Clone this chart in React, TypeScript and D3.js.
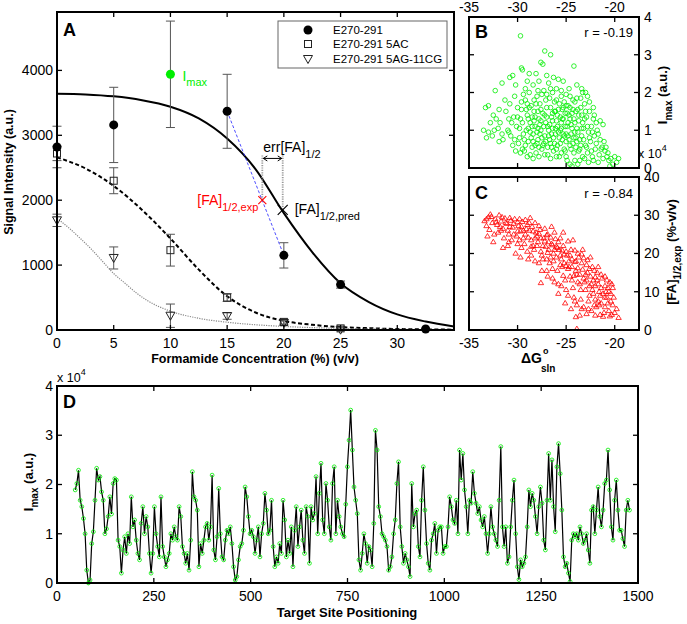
import * as d3 from "d3";

const FONT = "Arial, 'Liberation Sans', Helvetica, sans-serif";
const LIME = "#00ee00";
const RED = "#ff0000";

// ---------- panel A : signal vs formamide ----------
const concWt = [0, 5, 10, 15, 20, 25, 32.5];
const sigWt = [2820, 3160, 3940, 3370, 1150, 700, 15];
const errWt = [320, 580, 820, 570, 195, 55, 0];
const concMut = [0, 5, 10, 15, 20, 25];
const sig5AC = [2720, 2300, 1230, 500, 125, 25];
const err5AC = [110, 200, 245, 60, 35, 15];
const sig5AG = [1690, 1110, 220, 215, 110, 5];
const err5AG = [95, 170, 180, 50, 40, 10];
const imaxIndex = 2;

const fitConc = [0, 2.5, 5, 7.5, 10, 12.5, 15, 17.5, 20, 22.5, 25, 27.5, 30, 32.5, 35];
const fitWt = [3640, 3630, 3600, 3540, 3440, 3260, 2950, 2480, 1800, 1200, 720, 430, 240, 130, 55];
const fit5AC = [2660, 2490, 2220, 1850, 1410, 930, 520, 270, 140, 80, 45, 28, 15, 9, 5];
const fit5AGConc = [0, 1, 2, 3, 4, 5, 6, 7, 8, 10, 12.5, 15, 20, 25, 30, 35];
const fit5AG = [1720, 1580, 1420, 1250, 1060, 870, 720, 570, 450, 290, 180, 120, 55, 25, 10, 5];

const faExp = { conc: 18.1, sig: 2000 };
const faPred = { conc: 19.9, sig: 1850 };
const errLevel = 2690;

// ---------- panel B : Imax (x10^4) vs dG ----------
const bPoints: [number, number][] = [
  [-29.7,3.5],[-27.2,3.1],[-26.6,3.0],[-27.6,2.8],[-27.4,2.75],[-24.2,2.7],[-29.6,2.65],[-29.5,2.6],
  [-30.8,2.4],[-30.5,2.45],[-28.8,2.5],[-28.1,2.5],[-27.0,2.45],[-26.3,2.4],[-25.8,2.35],[-25.3,2.3],
  [-24.7,2.1],[-23.9,2.2],[-23.4,2.1],[-23.0,2.0],[-32.3,2.05],[-31.6,2.25],[-30.2,2.2],[-29.0,2.3],
  [-28.4,2.2],[-27.8,2.3],[-26.8,2.25],[-26.0,2.1],[-25.5,2.05],
  [-33.3,1.6],[-33.0,1.65],[-32.5,1.4],[-32.2,1.3],[-31.8,1.2],[-33.5,1.0],[-33.0,0.95],[-32.6,0.85],
  [-32.0,1.05],[-31.6,0.9],[-31.2,1.5],[-30.8,1.7],[-31.0,1.0],[-31.5,0.75],[-30.5,0.6],[-30.9,1.3],
  [-30.3,1.9],[-30.0,1.6],[-29.8,0.8],[-29.5,0.5],
  [-29.2,1.8],[-29.0,1.4],[-29.1,1.0],[-28.9,0.7],[-29.3,0.45],[-28.7,1.2],[-28.6,1.65],[-28.8,2.0],
  [-28.5,0.55],[-28.4,0.9],[-28.3,1.5],[-28.2,1.1],[-28.1,0.4],[-28.0,1.9],[-27.9,0.75],[-27.8,1.3],
  [-27.7,1.7],[-27.6,1.0],[-27.5,0.5],[-27.4,1.45],[-27.3,2.05],[-27.2,0.85],[-27.1,1.2],[-27.0,1.6],
  [-26.9,0.35],[-26.8,1.0],[-26.7,1.85],[-26.6,0.65],[-26.5,1.35],[-26.4,1.05],[-26.3,0.45],[-26.2,1.75],
  [-26.1,0.9],[-26.0,1.25],[-25.9,0.6],[-25.8,1.55],[-25.7,0.3],[-25.6,1.0],[-25.5,1.9],[-25.4,0.75],
  [-25.3,1.3],[-25.2,0.5],[-25.1,1.1],[-25.0,1.65],[-24.9,0.2],[-24.8,0.85],[-24.7,1.4],[-24.6,0.6],
  [-24.5,1.15],[-24.4,0.05],[-24.3,1.8],[-24.2,0.4],[-24.1,0.95],[-24.0,1.5],[-23.9,0.7],[-23.8,0.1],
  [-23.7,1.25],[-23.6,0.5],[-23.5,1.6],[-23.4,0.85],[-23.3,0.3],[-23.2,1.05],[-23.1,1.7],[-23.0,0.6],
  [-22.9,1.35],[-22.8,0.4],[-22.7,0.95],[-22.6,1.5],[-22.5,0.7],[-22.4,1.1],[-22.3,0.3],[-22.2,1.3],
  [-22.1,0.85],[-22.0,0.5],[-21.8,1.0],[-21.6,0.35],[-21.5,0.75],[-21.3,0.55],[-21.0,0.45],[-20.8,0.3],
  [-20.6,0.2],[-20.4,0.25],[-20.2,0.1],[-19.8,0.15],[-19.6,0.25],[-21.9,1.2],[-22.8,1.9],[-23.3,2.0],
  [-21.2,1.15],[-21.5,1.25],
  [-30.1,1.1],[-29.7,1.3],[-29.4,0.9],[-29.6,1.55],[-28.9,1.05],[-28.6,0.8],[-28.3,1.25],[-28.0,0.95],
  [-27.7,1.15],[-27.5,0.8],[-27.2,1.4],[-26.9,1.1],[-26.7,0.75],[-26.4,1.45],[-26.2,0.65],[-25.9,1.1],
  [-25.6,1.35],[-25.3,0.9],[-25.0,0.7],[-24.8,1.2],[-24.5,0.9],[-24.2,1.3],[-23.9,1.05],[-23.6,0.75],
  [-23.3,1.2],[-29.9,0.65],[-29.2,0.6],[-28.7,0.35],[-28.2,0.6],[-27.8,0.55],[-27.3,0.65],[-26.9,0.55],
  [-26.5,0.9],[-26.1,1.5],[-25.7,0.8],[-25.4,1.55],[-25.1,0.45],[-24.6,1.6],[-24.3,0.65],[-24.0,0.8],
  [-23.7,0.45],[-23.4,1.4],[-29.0,1.7],[-28.5,1.35],[-28.1,1.7],[-27.6,1.55],[-27.1,1.8],[-26.6,1.6],
  [-26.0,1.8],[-25.5,1.2],[-25.2,1.75],[-24.9,1.45],[-24.4,1.05],[-24.1,1.75],[-23.8,1.55],[-30.4,1.35],
  [-30.7,0.85],[-29.4,1.95],[-27.9,2.05],[-26.4,2.0],[-25.0,1.95],[-24.6,1.9],
  [-30.9,0.95],[-30.6,1.2],[-30.3,0.75],[-30.0,1.35],[-29.8,1.05],[-29.5,1.2],[-29.3,0.75],[-29.1,1.55],
  [-28.9,1.3],[-28.7,0.95],[-28.5,1.1],[-28.4,0.7],[-28.2,1.35],[-28.0,0.65],[-27.9,1.05],[-27.7,0.9],
  [-27.6,1.25],[-27.4,0.6],[-27.3,1.1],[-27.1,0.7],[-27.0,1.35],[-26.8,0.85],[-26.7,1.15],[-26.5,0.55],
  [-26.4,1.25],[-26.3,0.8],[-26.1,1.05],[-26.0,0.5],[-25.9,1.4],[-25.8,0.95],[-25.6,0.65],[-25.5,1.05],
  [-25.4,1.3],[-25.2,0.85],[-25.1,1.45],[-25.0,0.9],[-24.9,1.1],[-24.7,0.75],[-24.6,1.3],[-24.5,0.5],
  [-24.4,1.45],[-24.2,0.8],[-24.1,1.2],[-24.0,0.55],[-23.8,0.95],[-23.7,1.4],[-23.5,0.6],[-23.4,1.05],
  [-23.2,0.75],[-23.1,1.3],[-22.9,0.55],[-22.8,1.1],[-22.6,0.8],[-22.4,0.45],[-22.3,0.95],[-22.1,1.4],
  [-21.9,0.65],[-21.7,0.9],[-21.4,0.5],[-21.1,0.7],[-20.9,0.55],[-20.7,0.4],
  [-29.6,1.75],[-29.2,2.1],[-28.8,1.6],[-28.3,1.8],[-27.9,1.5],[-27.5,1.95],[-27.0,1.95],[-26.6,2.1],
  [-26.2,1.5],[-25.7,1.7],[-25.3,1.6],[-24.8,1.65],[-24.3,1.55],[-23.9,1.85],[-23.5,1.85],[-23.0,1.5],
  [-22.6,1.75],[-22.2,1.6],
  [-30.2,0.45],[-29.7,0.4],[-29.0,0.3],[-28.4,0.25],[-27.8,0.3],[-27.2,0.35],[-26.6,0.25],[-26.0,0.3],
  [-25.5,0.4],[-25.0,0.3],[-24.6,0.1],[-24.1,0.2],[-23.6,0.2],[-23.1,0.25],[-22.7,0.15],[-22.2,0.2],
  [-21.7,0.15],[-21.2,0.25],[-20.5,0.05],[-20.0,0.3],[-31.3,1.8],[-31.9,1.55],[-32.8,1.2],[-32.4,1.0],
  [-31.9,0.7],[-33.2,0.8],
];

// ---------- panel C : [FA]1/2,exp vs dG ----------
const cPoints: [number, number][] = [
  [-33.4,28.5],[-33.2,27.2],[-33.0,29.5],[-32.8,30.2],[-32.6,28.0],[-32.5,23.0],[-32.3,29.0],[-32.1,27.5],
  [-31.9,30.0],[-31.7,28.4],[-31.5,26.5],[-31.3,29.2],[-31.1,27.8],[-30.9,25.0],[-30.7,28.6],[-30.5,26.8],
  [-30.3,29.0],[-30.1,24.5],[-29.9,27.2],[-29.7,25.8],[-29.5,28.3],[-29.3,22.5],[-29.1,26.4],[-28.9,24.2],
  [-28.7,29.3],[-28.5,27.0],[-28.3,21.0],[-28.1,25.5],[-27.9,23.0],[-27.7,26.2],[-27.5,19.5],[-27.3,24.0],
  [-27.1,21.8],[-26.9,25.0],[-26.7,17.5],[-26.5,22.5],[-26.3,20.0],[-26.1,23.8],[-25.9,15.5],[-25.7,21.0],
  [-25.5,18.5],[-25.3,22.0],[-25.1,13.0],[-24.9,19.5],[-24.7,16.5],[-24.5,21.0],[-24.3,11.0],[-24.1,17.8],
  [-23.9,14.5],[-23.7,19.0],[-23.5,8.0],[-23.3,15.8],[-23.1,12.5],[-22.9,17.0],[-22.7,7.5],[-22.5,14.0],
  [-22.3,10.5],[-22.1,15.5],[-21.9,6.0],[-21.7,12.0],[-21.5,9.0],[-21.3,13.5],[-21.1,4.5],[-20.9,10.0],
  [-20.7,7.0],[-20.5,12.5],[-20.3,4.0],[-20.1,8.5],[-19.8,5.5],[-19.6,3.2],
  [-32.9,26.2],[-32.0,25.5],[-31.4,24.0],[-30.8,27.0],[-30.2,20.0],[-29.8,23.5],[-29.4,26.0],[-29.0,20.5],
  [-28.6,23.5],[-28.2,28.0],[-27.8,17.5],[-27.6,12.3],[-27.4,22.0],[-27.0,18.5],[-26.8,23.0],[-26.4,16.0],
  [-26.2,25.5],[-26.0,19.0],[-25.8,12.0],[-25.6,24.0],[-25.4,16.5],[-25.2,19.8],[-25.0,10.5],[-24.8,23.2],
  [-24.6,14.0],[-24.4,18.5],[-24.2,8.5],[-24.0,15.5],[-23.8,20.0],[-23.6,12.0],[-23.4,17.5],[-23.2,6.0],
  [-23.0,14.5],[-22.8,18.3],[-22.6,11.5],[-22.4,5.0],[-22.2,13.0],[-22.0,8.0],[-21.8,15.0],[-21.6,6.5],
  [-21.4,11.0],[-21.2,3.5],[-21.0,8.5],[-20.8,13.0],[-20.6,5.0],[-20.4,9.5],[-20.2,6.5],[-24.0,3.4],
  [-23.6,3.8],[-22.9,4.2],[-23.9,0.3],[-22.0,3.8],[-21.5,4.0],[-20.5,3.6],
  [-30.6,23.5],[-30.0,25.8],[-29.6,21.5],[-29.2,28.8],[-28.8,26.0],[-28.4,22.0],[-28.0,24.5],[-27.6,20.5],
  [-27.2,26.5],[-26.9,20.2],[-26.6,24.2],[-26.3,18.0],[-25.9,21.5],[-25.6,17.0],[-25.3,14.2],[-25.0,20.5],
  [-24.7,18.0],[-24.4,13.0],[-24.1,20.8],[-23.8,16.2],[-23.5,10.5],[-23.2,18.8],[-22.9,13.0],[-22.6,9.0],
  [-22.3,16.5],[-22.0,11.5],[-21.7,7.5],[-21.4,14.5],[-21.0,6.0],[-20.7,11.0],[-27.8,27.2],[-27.0,15.5],
  [-26.4,13.5],[-25.8,9.5],[-25.1,7.0],[-24.5,5.5],[-23.9,6.5],[-28.9,18.5],[-29.7,19.0],[-31.0,22.0],
  [-31.7,26.0],[-32.4,25.0],[-33.1,24.5],
  [-33.2,29.0],[-32.7,29.6],[-32.2,28.2],[-31.8,27.0],[-31.2,28.0],[-30.8,29.3],[-30.4,27.8],[-30.0,28.2],
  [-29.6,27.0],[-29.2,25.0],[-28.8,28.0],[-28.4,25.8],[-28.0,22.0],[-27.6,24.0],[-27.2,23.2],[-26.8,21.0],
  [-26.4,22.2],[-26.0,21.8],[-25.6,19.5],[-25.2,17.5],[-24.8,16.0],[-24.4,16.5],[-24.0,18.0],[-23.6,14.5],
  [-23.2,13.5],[-22.8,15.0],[-22.4,12.0],[-22.0,13.8],[-21.6,10.0],[-21.2,9.5],[-20.8,8.5],[-20.4,7.5],
  [-20.0,4.5],
  [-31.6,29.5],[-31.0,26.0],[-30.4,25.0],[-29.8,29.0],[-29.4,24.0],[-29.0,27.5],[-28.6,21.8],[-28.2,24.0],
  [-27.8,25.2],[-27.4,18.5],[-27.0,24.8],[-26.6,19.0],[-26.2,21.0],[-25.8,23.0],[-25.4,20.8],[-25.0,16.8],
  [-24.6,19.5],[-24.2,14.2],[-23.8,12.5],[-23.4,19.8],[-23.0,10.5],[-22.6,16.0],[-22.2,9.5],[-21.8,13.0],
  [-21.4,7.0],[-21.0,11.5],[-20.6,10.0],[-20.2,11.0],
  [-26.9,14.0],[-26.2,12.5],[-25.5,11.5],[-24.8,9.0],[-24.1,7.5],[-23.4,5.5],[-22.7,5.5],[-22.1,6.5],
  [-27.5,15.5],[-28.2,18.0],[-28.6,19.5],[-30.0,22.5],[-30.9,23.0],[-31.5,21.5],[-26.5,27.0],[-25.3,25.5],
  [-24.3,23.5],[-23.3,21.0],[-22.5,19.0],[-21.7,16.5],[-21.0,14.0],[-20.3,12.0],
];

// ---------- panel D : Imax (x10^4) along the target, sampled every ~4.3 nt ----------
const dFirstPos = 47;
const dLastPos = 1478;
const dImax = [
  1.89,2.02,2.29,1.68,1.55,1.31,1.0,0.26,0.0,0.06,0.8,1.04,1.68,2.33,2.09,2.16,1.85,1.68,1.0,1.1,
  1.35,1.75,1.4,2.02,2.12,2.09,0.87,0.74,0.2,0.67,0.94,0.6,1.0,0.8,1.75,1.14,1.28,0.87,0.6,0.47,
  1.21,1.55,1.0,1.35,1.14,0.6,0.2,0.6,1.55,1.0,0.74,0.53,1.75,0.74,0.53,0.33,0.47,0.6,1.0,0.87,
  1.14,0.94,0.87,1.55,1.35,0.74,0.6,0.4,0.6,0.26,0.87,2.26,1.75,1.68,1.48,0.33,0.8,0.6,0.87,1.14,
  1.21,0.87,1.14,2.19,0.67,0.47,0.94,1.92,1.0,0.53,0.47,0.87,1.07,1.0,1.14,0.8,0.33,0.06,0.13,0.47,
  0.74,0.8,1.07,1.95,1.75,1.35,1.0,1.07,0.94,0.6,0.87,1.14,0.53,1.0,1.21,1.82,1.48,1.0,1.07,1.68,
  0.74,0.33,0.53,0.4,0.8,0.6,1.68,1.28,0.53,0.87,0.6,1.14,0.33,1.07,1.55,0.74,1.14,1.48,0.87,0.6,
  1.55,1.35,0.4,1.55,1.28,1.41,2.16,1.0,1.82,2.43,1.28,1.0,2.02,1.68,1.14,0.87,2.02,2.36,1.0,1.68,
  1.35,1.14,1.0,0.94,1.6,2.36,2.9,3.51,2.7,1.95,1.68,1.41,0.47,0.26,0.6,1.0,0.8,0.4,0.74,0.67,
  0.33,1.21,3.1,2.7,1.55,1.35,1.0,0.94,0.87,0.74,0.26,0.33,0.53,1.0,1.28,2.02,2.46,1.14,0.74,0.4,
  0.6,0.47,0.33,0.13,2.02,1.14,1.41,1.48,0.74,0.53,1.68,2.36,1.48,0.8,0.4,0.26,0.87,1.0,1.21,0.6,
  1.07,1.14,1.14,0.6,0.74,0.74,1.14,1.75,1.55,1.28,1.21,1.68,1.0,2.7,2.09,2.63,1.89,1.55,1.0,1.68,
  1.62,2.26,1.82,1.62,1.41,1.55,1.28,1.14,1.35,1.0,0.6,1.0,1.55,1.14,1.0,0.87,0.74,1.68,2.77,1.14,
  0.74,1.14,0.4,0.53,1.14,1.68,2.09,1.0,0.33,0.07,0.47,0.33,0.4,0.53,1.14,1.89,1.55,1.82,1.68,1.35,
  1.0,1.55,1.95,1.62,0.87,0.67,1.68,2.63,1.68,2.5,1.55,1.04,2.36,2.83,2.22,1.48,0.53,0.33,0.4,0.2,
  0.03,0.87,1.0,0.94,1.0,0.87,1.14,1.0,0.8,0.87,1.0,0.67,0.4,1.48,1.55,1.0,1.48,1.95,1.35,1.14,
  1.48,2.02,2.09,2.7,1.89,1.14,0.87,1.68,2.09,1.48,1.07,1.07,0.9,0.74,1.48,1.68,1.48,
];

const xA = d3.scaleLinear().domain([0, 35]).range([57, 454]);
const yA = d3.scaleLinear().domain([0, 4900]).range([330, 12]);
const xB = d3.scaleLinear().domain([-35, -17.5]).range([469, 639]);
const yB = d3.scaleLinear().domain([0, 4]).range([168, 17]);
const xC = d3.scaleLinear().domain([-35, -17.5]).range([469, 639]);
const yC = d3.scaleLinear().domain([0, 40]).range([330, 177]);
const xD = d3.scaleLinear().domain([0, 1500]).range([57, 638]);
const yD = d3.scaleLinear().domain([0, 4]).range([583, 386]);

type Lin = d3.ScaleLinear<number, number>;

function Frame(props: {
  x: Lin; y: Lin; xTicks: number[]; yTicks: number[];
  xLabels?: "top" | "bottom"; yLabels?: "left" | "right";
}) {
  const { x, y, xTicks, yTicks, xLabels, yLabels } = props;
  const [l, r] = x.range();
  const [b, t] = y.range();
  const tl = 5;
  return (
    <g fontSize={14} fill="#000">
      {xTicks.map((v) => (
        <g key={"x" + v}>
          <line x1={x(v)} x2={x(v)} y1={b} y2={b - tl} stroke="#000" strokeWidth={1.3} />
          <line x1={x(v)} x2={x(v)} y1={t} y2={t + tl} stroke="#000" strokeWidth={1.3} />
          {xLabels === "bottom" && <text x={x(v)} y={b + 18} textAnchor="middle">{v}</text>}
          {xLabels === "top" && <text x={x(v)} y={t - 5} textAnchor="middle">{v}</text>}
        </g>
      ))}
      {yTicks.map((v) => (
        <g key={"y" + v}>
          <line x1={l} x2={l + tl} y1={y(v)} y2={y(v)} stroke="#000" strokeWidth={1.3} />
          <line x1={r} x2={r - tl} y1={y(v)} y2={y(v)} stroke="#000" strokeWidth={1.3} />
          {yLabels === "left" && <text x={l - 4} y={y(v)} dy="0.35em" textAnchor="end">{v}</text>}
          {yLabels === "right" && <text x={r + 5} y={y(v)} dy="0.35em" textAnchor="start">{v}</text>}
        </g>
      ))}
      <rect x={l} y={t} width={r - l} height={b - t} fill="none" stroke="#000" strokeWidth={2} />
    </g>
  );
}

function ErrBars({ xs, ys, es }: { xs: number[]; ys: number[]; es: number[] }) {
  return (
    <g stroke="#555" strokeWidth={1}>
      {xs.map((c, i) => {
        if (!es[i]) return null;
        const px = xA(c);
        const hi = yA(ys[i] + es[i]);
        const lo = yA(Math.max(0, ys[i] - es[i]));
        return (
          <g key={i}>
            <line x1={px} x2={px} y1={hi} y2={lo} />
            <line x1={px - 4.5} x2={px + 4.5} y1={hi} y2={hi} />
            <line x1={px - 4.5} x2={px + 4.5} y1={lo} y2={lo} />
          </g>
        );
      })}
    </g>
  );
}

const triDown = "M-4.5,-3.5L4.5,-3.5L0,4.5Z";
const triUp = "M0,-2.8L2.7,1.7L-2.7,1.7Z";

function Cross({ cx, cy, s, color }: { cx: number; cy: number; s: number; color: string }) {
  return (
    <g stroke={color} strokeWidth={1.1}>
      <line x1={cx - s} x2={cx + s} y1={cy - s} y2={cy + s} />
      <line x1={cx - s} x2={cx + s} y1={cy + s} y2={cy - s} />
    </g>
  );
}

export default function App() {
  const fitLine = (xs: number[]) =>
    d3.line<number>().x((_, i) => xA(xs[i])).y((v) => yA(v)).curve(d3.curveMonotoneX);
  const dStep = (dLastPos - dFirstPos) / (dImax.length - 1);
  const dPos = dImax.map((_, i) => dFirstPos + i * dStep);
  const dLine = d3.line<number>().x((_, i) => xD(dPos[i])).y((v) => yD(v));

  const ex = xA(faExp.conc), ey = yA(faExp.sig);
  const px = xA(faPred.conc), py = yA(faPred.sig);
  const topY = yA(errLevel);
  const arrowY = topY + 3;

  return (
    <svg width={687} height={624} style={{ position: "absolute", left: 0, top: 0, background: "#fff" }}
      fontFamily={FONT}>
      <defs>
        <clipPath id="clipB"><rect x={469} y={17} width={170} height={151} /></clipPath>
        <clipPath id="clipC"><rect x={469} y={177} width={170} height={153} /></clipPath>
      </defs>

      {/* ---------------- Panel A ---------------- */}
      <path d={fitLine(fitConc)(fitWt) || ""} fill="none" stroke="#000" strokeWidth={2} />
      <path d={fitLine(fitConc)(fit5AC) || ""} fill="none" stroke="#000" strokeWidth={2} strokeDasharray="4,2.5" />
      <path d={fitLine(fit5AGConc)(fit5AG) || ""} fill="none" stroke="#888" strokeWidth={1.2} strokeDasharray="1.2,1.2" />

      <ErrBars xs={concWt} ys={sigWt} es={errWt} />
      <ErrBars xs={concMut} ys={sig5AC} es={err5AC} />
      <ErrBars xs={concMut} ys={sig5AG} es={err5AG} />

      {/* dotted guides + arrow for err[FA]1/2 */}
      <g stroke="#999" strokeWidth={1.8} strokeDasharray="1.2,1.2">
        <line x1={ex} x2={ex} y1={topY} y2={ey} />
        <line x1={px} x2={px} y1={topY} y2={py} />
      </g>
      <g stroke="#000" strokeWidth={1} fill="none">
        <line x1={ex + 1} x2={px - 1} y1={arrowY} y2={arrowY} />
        <path d={`M${ex + 5},${arrowY - 2.5}L${ex + 1},${arrowY}L${ex + 5},${arrowY + 2.5}`} />
        <path d={`M${px - 5},${arrowY - 2.5}L${px - 1},${arrowY}L${px - 5},${arrowY + 2.5}`} />
      </g>

      {/* line between the bracketing points */}
      <line x1={xA(concWt[3])} y1={yA(sigWt[3])} x2={xA(concWt[4])} y2={yA(sigWt[4])}
        stroke="#2020ff" strokeWidth={0.8} strokeDasharray="3,2" />

      {concMut.map((c, i) => (
        <rect key={"s" + i} x={xA(c) - 3.5} y={yA(sig5AC[i]) - 3.5} width={7} height={7}
          fill="none" stroke="#222" strokeWidth={1} />
      ))}
      {concMut.map((c, i) => (
        <path key={"t" + i} d={triDown} transform={`translate(${xA(c)},${yA(sig5AG[i])})`}
          fill="none" stroke="#222" strokeWidth={1} />
      ))}
      {concWt.map((c, i) => (
        <circle key={"c" + i} cx={xA(c)} cy={yA(sigWt[i])} r={4.5}
          fill={i === imaxIndex ? LIME : "#000"} />
      ))}

      <Cross cx={ex} cy={ey} s={4} color={RED} />
      <Cross cx={px} cy={py} s={5} color="#000" />

      <g fontSize={14}>
        <text x={xA(concWt[imaxIndex]) + 12} y={yA(sigWt[imaxIndex]) + 7} fill={LIME}>
          I<tspan fontSize={11} dy={5}>max</tspan>
        </text>
        <text x={ex - 4} y={ey + 5} textAnchor="end" fill={RED}>
          [FA]<tspan fontSize={11} dy={6}>1/2,exp</tspan>
        </text>
        <text x={px + 12} y={py + 4} fill="#000">
          [FA]<tspan fontSize={11} dy={6}>1/2,pred</tspan>
        </text>
        <text x={ex + 1} y={topY - 3} fill="#000">
          err[FA]<tspan fontSize={11} dy={6}>1/2</tspan>
        </text>
      </g>

      <Frame x={xA} y={yA} xTicks={[0, 5, 10, 15, 20, 25, 30]} yTicks={[0, 1000, 2000, 3000, 4000]}
        xLabels="bottom" yLabels="left" />

      {/* legend */}
      <g>
        <rect x={278} y={21} width={169} height={47} fill="#fff" stroke="#666" strokeWidth={1} />
        <circle cx={308} cy={30} r={4.5} fill="#000" />
        <rect x={304.5} y={40.5} width={7} height={7} fill="none" stroke="#222" strokeWidth={1} />
        <path d={triDown} transform="translate(308,59)" fill="none" stroke="#222" strokeWidth={1} />
        <g fontSize={11.5}>
          <text x={333} y={30} dy="0.35em">E270-291</text>
          <text x={333} y={44} dy="0.35em">E270-291 5AC</text>
          <text x={333} y={59} dy="0.35em">E270-291 5AG-11CG</text>
        </g>
      </g>

      <text x={63} y={36} fontSize={18} fontWeight="bold">A</text>
      <text x={255} y={363} fontSize={12.5} fontWeight="bold" textAnchor="middle">
        Formamide Concentration (%) (v/v)
      </text>
      <text transform="translate(13,172) rotate(-90)" fontSize={12.5} fontWeight="bold" textAnchor="middle">
        Signal Intensity (a.u.)
      </text>

      {/* ---------------- Panel B ---------------- */}
      <g clipPath="url(#clipB)">
        {bPoints.map(([g, v], i) => (
          <circle key={i} cx={xB(g)} cy={yB(v)} r={2.3} fill="none" stroke={LIME} strokeWidth={0.8} />
        ))}
      </g>
      <Frame x={xB} y={yB} xTicks={[-35, -30, -25, -20]} yTicks={[0, 1, 2, 3, 4]}
        xLabels="top" yLabels="right" />
      <text x={475} y={38} fontSize={18} fontWeight="bold">B</text>
      <text x={633} y={37} fontSize={13} textAnchor="end">r = -0.19</text>
      <text x={638} y={158} fontSize={12.5}>x 10<tspan fontSize={9} dy={-7}>4</tspan></text>
      <text transform="translate(667,95) rotate(-90)" fontSize={13} fontWeight="bold" textAnchor="middle">
        I<tspan fontSize={10} dy={5}>max</tspan><tspan dy={-5}> (a.u.)</tspan>
      </text>

      {/* ---------------- Panel C ---------------- */}
      <g clipPath="url(#clipC)">
        {cPoints.map(([g, v], i) => (
          <path key={i} d={triUp} transform={`translate(${xC(g)},${yC(v)})`}
            fill="none" stroke={RED} strokeWidth={0.8} />
        ))}
      </g>
      <Frame x={xC} y={yC} xTicks={[-35, -30, -25, -20]} yTicks={[0, 10, 20, 30, 40]}
        xLabels="bottom" yLabels="right" />
      <text x={475} y={199} fontSize={18} fontWeight="bold">C</text>
      <text x={633} y={198} fontSize={13} textAnchor="end">r = -0.84</text>
      <g fontWeight="bold">
        <text x={542} y={363} fontSize={14} textAnchor="end">ΔG</text>
        <text x={543} y={354} fontSize={9}>o</text>
        <text x={541} y={372} fontSize={10}>sln</text>
      </g>
      <text transform="translate(676,252) rotate(-90)" fontSize={13} fontWeight="bold" textAnchor="middle">
        [FA]<tspan fontSize={10} dy={5}>1/2,exp</tspan><tspan dy={-5}> (%-v/v)</tspan>
      </text>

      {/* ---------------- Panel D ---------------- */}
      <path d={dLine(dImax) || ""} fill="none" stroke="#000" strokeWidth={1.2} />
      {dImax.map((v, i) => (
        <circle key={i} cx={xD(dPos[i])} cy={yD(v)} r={1.9} fill="none" stroke={LIME} strokeWidth={0.8} />
      ))}
      <Frame x={xD} y={yD} xTicks={[0, 250, 500, 750, 1000, 1250, 1500]} yTicks={[0, 1, 2, 3, 4]}
        xLabels="bottom" yLabels="left" />
      <text x={63} y={408} fontSize={18} fontWeight="bold">D</text>
      <text x={57} y={382} fontSize={12.5}>x 10<tspan fontSize={9} dy={-7}>4</tspan></text>
      <text x={347} y={617} fontSize={13} fontWeight="bold" textAnchor="middle">Target Site Positioning</text>
      <text transform="translate(33,482) rotate(-90)" fontSize={13} fontWeight="bold" textAnchor="middle">
        I<tspan fontSize={10} dy={5}>max</tspan><tspan dy={-5}> (a.u.)</tspan>
      </text>
    </svg>
  );
}
